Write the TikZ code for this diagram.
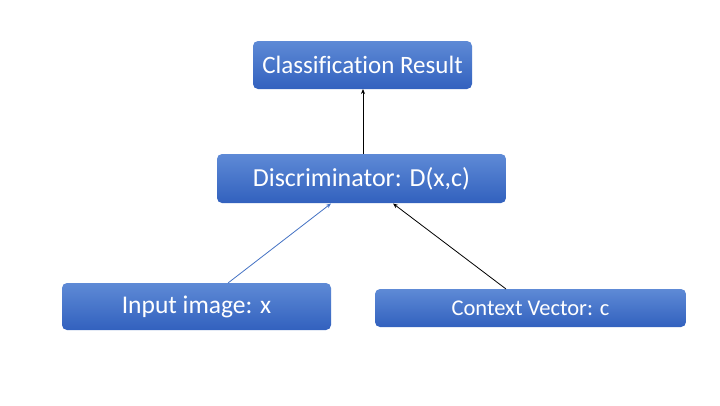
\documentclass[tikz,border=0pt]{standalone}
\usepackage{fontspec}
\setmainfont[Ligatures=NoCommon]{Carlito}
\usetikzlibrary{arrows.meta}
\definecolor{boxtop}{HTML}{5E8AD6}
\definecolor{boxbot}{HTML}{3261BE}
\definecolor{linkblue}{HTML}{4472C4}
\tikzset{
  box/.style={rounded corners=5pt, top color=boxtop, bottom color=boxbot, draw=none, text=white, inner sep=0pt},
  link/.style={line width=0.8pt, -{Stealth[length=5pt,width=4pt]}}
}
\begin{document}
\begin{tikzpicture}[x=1pt,y=-1pt]
\useasboundingbox (0,0) rectangle (720,405);
\fill[white] (0,0) rectangle (720,405);
\node[box, minimum width=219pt, minimum height=48pt, font=\fontsize{25}{30}\selectfont] (cls) at (362.5,65) {Classification Result};
\node[box, minimum width=289pt, minimum height=49pt, font=\fontsize{26}{30}\selectfont] (disc) at (361.5,178.5) {Discriminator: D(x,c)};
\node[box, minimum width=269pt, minimum height=47pt, font=\fontsize{25.5}{30}\selectfont] (inp) at (196.5,306.5) {Input image: x};
\node[box, minimum width=311pt, minimum height=38pt, font=\fontsize{22.5}{26}\selectfont] (ctx) at (530.5,308) {Context Vector: c};
\coordinate (dtop) at (363,154);
\coordinate (cbot) at (363,89);
\coordinate (itop) at (228,283);
\coordinate (dbl) at (331,203.5);
\coordinate (ctop) at (506,289);
\coordinate (dbr) at (393,203.5);
\draw[link, black] (dtop) -- (cbot);
\draw[link, linkblue] (itop) -- (dbl);
\draw[link, black] (ctop) -- (dbr);
\end{tikzpicture}
\end{document}
